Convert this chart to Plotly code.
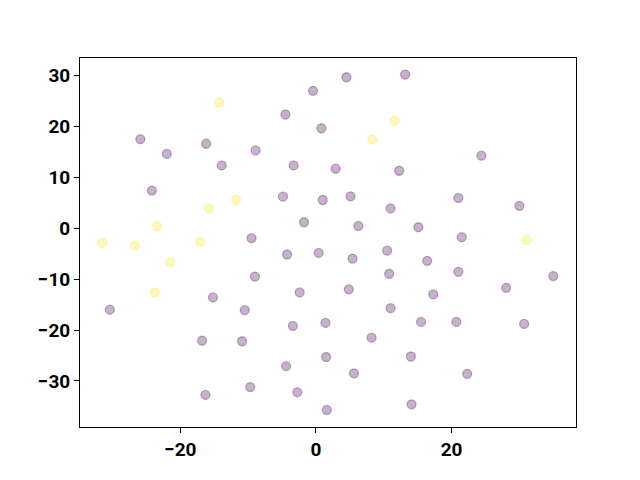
import plotly.graph_objects as go

x_vals = [-14.26, -0.43, -4.5, 0.8, -25.9, -16.2, -22.0, -8.9, -13.9, -3.3,
          -24.2, -11.8, -4.86, 1.0, -15.8, -1.76, -23.45, -9.5,
          4.49, 13.15, 11.6, 8.3, 24.4, 2.9, 12.27, 5.1, 11.0, 21.0, 30.0,
          6.26, 15.1, 21.5, 31.05,
          -31.5, -26.7, -17.06, -21.5, -4.26, 0.4, -9.0, -23.75, -15.2, -2.4,
          -30.4, -10.5, -3.4, 1.4, -16.8, -10.9, 1.5, -4.4, -9.7, -2.75, -16.3, 1.6,
          5.4, 10.5, 16.4, 21.0, 10.8, 35.0, 4.84, 17.3, 28.06, 11.0, 15.5, 20.7,
          30.7, 8.2, 14.0, 5.6, 22.3, 14.1]
y_vals = [24.7, 27.0, 22.35, 19.65, 17.5, 16.6, 14.6, 15.3, 12.35, 12.35,
          7.4, 5.6, 6.2, 5.55, 3.9, 1.18, 0.4, -1.96,
          29.67, 30.2, 21.1, 17.45, 14.25, 11.7, 11.3, 6.27, 3.9, 5.95, 4.4,
          0.45, 0.2, -1.76, -2.3,
          -2.88, -3.4, -2.68, -6.67, -5.16, -4.84, -9.5, -12.6, -13.6, -12.6,
          -16.0, -16.1, -19.2, -18.6, -22.1, -22.2, -25.3, -27.1, -31.2, -32.2, -32.75, -35.7,
          -5.95, -4.4, -6.4, -8.56, -8.95, -9.4, -12.0, -13.0, -11.7, -15.7, -18.4, -18.4,
          -18.8, -21.5, -25.2, -28.5, -28.6, -34.6]
labels = [1, 0, 0, 0, 0, 0, 0, 0, 0, 0,
          0, 1, 0, 0, 1, 0, 1, 0,
          0, 0, 1, 1, 0, 0, 0, 0, 0, 0, 0,
          0, 0, 0, 1,
          1, 1, 1, 1, 0, 0, 0, 1, 0, 0,
          0, 0, 0, 0, 0, 0, 0, 0, 0, 0, 0, 0,
          0, 0, 0, 0, 0, 0, 0, 0, 0, 0, 0, 0,
          0, 0, 0, 0, 0, 0]

x_ticks = [-20, 0, 20]
y_ticks = [-30, -20, -10, 0, 10, 20, 30]

palette = {0: "rgba(68,1,84,0.3)", 1: "rgba(253,231,37,0.3)"}
colors = [palette[l] for l in labels]

fig = go.Figure(go.Scatter(
    x=x_vals, y=y_vals, mode="markers",
    marker=dict(size=9, color=colors, line=dict(color=colors, width=1.3)),
    hoverinfo="skip",
))

axis_common = dict(
    showgrid=False, zeroline=False, showline=True, linecolor="black",
    linewidth=1, mirror=True, ticks="outside", ticklen=5, tickwidth=1,
    tickcolor="black",
    tickfont=dict(family="Roboto", size=19, color="black", weight="bold"),
)
fig.update_layout(
    width=640, height=480,
    margin=dict(l=72, r=72, t=50, b=61),
    plot_bgcolor="white", paper_bgcolor="white",
    showlegend=False,
    xaxis=dict(range=[-34.8, 38.35], tickvals=x_ticks, **axis_common),
    yaxis=dict(range=[-39.05, 33.45], tickvals=y_ticks, **axis_common),
)
fig.write_html("out.html")
